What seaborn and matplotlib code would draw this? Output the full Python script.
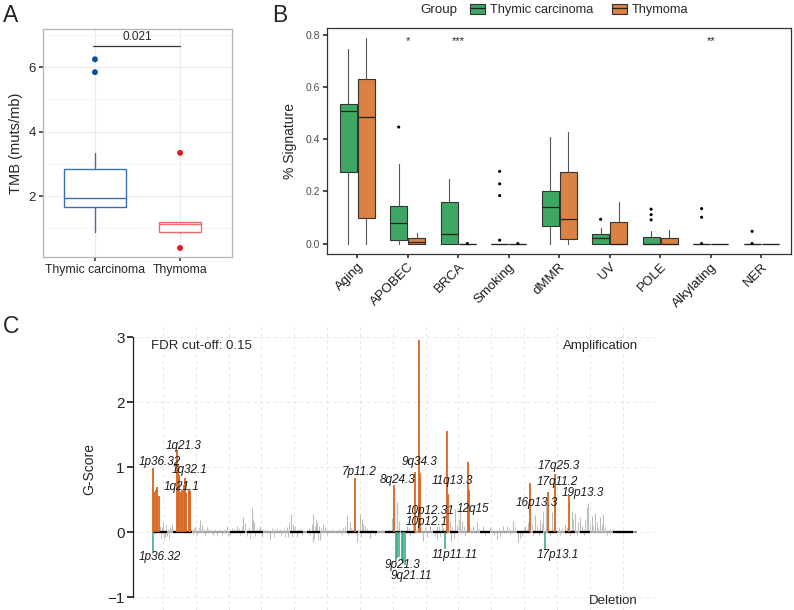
import matplotlib
matplotlib.use('Agg')
import matplotlib.pyplot as plt
from matplotlib.patches import Patch
from matplotlib.lines import Line2D
from matplotlib.legend_handler import HandlerTuple
import seaborn as sns
import pandas as pd
import numpy as np

# ---- panel A: TMB per group (box stats)
tmb_groups = ['Thymic carcinoma', 'Thymoma']
tmb_lo = [0.89, 0.86]
tmb_q1 = [1.66, 0.88]
tmb_med = [1.95, 1.12]
tmb_q3 = [2.85, 1.18]
tmb_hi = [3.33, 1.18]
tmb_out_group = ['Thymic carcinoma', 'Thymic carcinoma', 'Thymoma', 'Thymoma']
tmb_out_value = [6.24, 5.84, 3.34, 0.39]
tmb_pvalue = '0.021'

# ---- panel B: signature fractions
signatures = ['Aging', 'APOBEC', 'BRCA', 'Smoking', 'dMMR', 'UV', 'POLE', 'Alkylating', 'NER']
tc_lo = [0, 0, 0, 0, 0, 0, 0, 0, 0]
tc_q1 = [0.276, 0.013, 0, 0, 0.066, 0, 0, 0, 0]
tc_med = [0.507, 0.078, 0.037, 0, 0.139, 0.020, 0, 0, 0]
tc_q3 = [0.537, 0.146, 0.160, 0, 0.203, 0.036, 0.027, 0, 0]
tc_hi = [0.746, 0.305, 0.249, 0, 0.409, 0.059, 0.050, 0, 0]
th_lo = [0, 0, 0, 0, 0, 0, 0, 0, 0]
th_q1 = [0.098, 0, 0, 0, 0.017, 0, 0, 0, 0]
th_med = [0.484, 0.005, 0, 0, 0.095, 0, 0, 0, 0]
th_q3 = [0.631, 0.020, 0, 0, 0.276, 0.082, 0.023, 0, 0]
th_hi = [0.789, 0.041, 0, 0, 0.427, 0.158, 0.052, 0, 0]
sig_out_name = ['APOBEC', 'Smoking', 'Smoking', 'Smoking', 'Smoking', 'UV', 'POLE', 'POLE', 'POLE',
                'Alkylating', 'Alkylating', 'Alkylating', 'NER', 'NER', 'BRCA', 'Smoking']
sig_out_group = ['TC'] * 14 + ['TH', 'TH']
sig_out_value = [0.447, 0.277, 0.229, 0.184, 0.013, 0.093, 0.132, 0.111, 0.091,
                 0.134, 0.101, 0.0, 0.047, 0.0, 0.0, 0.0]
sig_stars = {'APOBEC': '*', 'BRCA': '***', 'Alkylating': '**'}

# ---- panel C: GISTIC G-scores along the genome (position in Mb)
amp_pos = [4, 12, 22, 32, 42, 148, 154, 162, 172, 183, 192, 198, 207, 220, 231,
           1218, 1452, 1581, 1602, 1608, 1772, 1777, 1899, 1904, 2268, 2378, 2420, 2504]
amp_score = [0.99, 0.62, 0.65, 0.69, 0.56, 1.26, 1.05, 0.87, 0.62, 0.65, 0.72, 0.83, 0.60, 0.66, 0.63,
             0.83, 0.72, 0.92, 2.95, 0.91, 1.55, 0.58, 1.07, 0.64, 0.75, 0.62, 0.90, 0.55]
del_pos = [8, 1462, 1472, 1482, 1498, 1508, 1520, 1758, 2358]
del_score = [-0.31, -0.45, -0.40, -0.38, -0.44, -0.47, -0.51, -0.26, -0.28]
# larger background (non significant) peaks
bg_pos = [48, 58, 68, 78, 90, 108, 118, 252, 288, 298, 328, 368, 408, 448, 468, 508, 548, 570,
          598, 612, 648, 658, 708, 748, 768, 808, 816, 834, 848, 868, 964, 969, 978, 988, 1008,
          1028, 1038, 1068, 1148, 1168, 1188, 1228, 1248, 1262, 1268, 1278, 1308, 1438, 1468,
          1484, 1528, 1568, 1628, 1668, 1708, 1713, 1738, 1788, 1794, 1818, 1848, 1858, 1928,
          1948, 1988, 2028, 2068, 2108, 2128, 2168, 2198, 2208, 2238, 2258, 2298, 2328, 2348,
          2362, 2398, 2478, 2518, 2538, 2568, 2608, 2618, 2638, 2658, 2688, 2708, 2748, 2808]
bg_score = [0.10, 0.08, 0.15, -0.08, -0.06, 0.08, 0.13, 0.06, 0.18, 0.11, 0.08, -0.05, 0.04,
            0.10, -0.04, 0.10, 0.23, -0.06, 0.37, 0.15, 0.10, -0.08, -0.13, 0.05, 0.05, 0.08,
            -0.07, 0.27, 0.13, -0.08, 0.27, -0.16, 0.10, 0.15, -0.13, 0.12, 0.08, 0.03, 0.06,
            0.26, 0.15, -0.15, 0.28, 0.20, 0.13, 0.10, -0.09, 0.22, 0.46, 0.17, 0.09, 0.14,
            -0.14, 0.09, 0.09, -0.11, 0.14, 0.17, -0.14, 0.36, 0.35, 0.17, 0.09, 0.15, 0.09,
            0.08, -0.11, 0.09, 0.10, 0.17, -0.15, -0.09, 0.10, 0.15, 0.26, 0.18, 0.33, 0.41,
            0.31, 0.13, 0.33, 0.30, 0.23, 0.38, 0.44, 0.25, 0.30, 0.23, 0.28, 0.05, 0.03]
# small background noise
noise_pos = [52, 62, 72, 84, 96, 102, 112, 240, 246, 260, 270, 280, 306, 316, 340, 350, 380, 390,
             420, 430, 456, 478, 490, 520, 530, 540, 556, 580, 590, 604, 620, 630, 640, 668, 680,
             720, 730, 740, 776, 790, 800, 824, 840, 856, 876, 888, 900, 940, 950, 958, 974, 984,
             996, 1002, 1016, 1048, 1080, 1100, 1120, 1140, 1160, 1176, 1196, 1208, 1236, 1256,
             1290, 1320, 1340, 1380, 1420, 1444, 1540, 1550, 1590, 1640, 1650, 1680, 1700, 1720,
             1730, 1748, 1800, 1810, 1830, 1840, 1870, 1880, 1910, 1960, 2000, 2040, 2050, 2080,
             2090, 2140, 2150, 2180, 2220, 2230, 2248, 2278, 2288, 2310, 2320, 2340, 2370, 2388,
             2410, 2440, 2450, 2460, 2490, 2510, 2528, 2548, 2558, 2580, 2590, 2600, 2628, 2648,
             2668, 2678, 2698, 2718, 2730, 2760, 2780, 2840]
noise_score = [-0.10, 0.05, -0.12, 0.12, 0.04, -0.10, 0.05, 0.05, -0.05, 0.10, -0.04, 0.07, 0.05,
               -0.04, 0.05, 0.03, 0.04, -0.06, -0.05, 0.05, -0.06, 0.06, 0.05, 0.06, -0.05, 0.10,
               0.14, 0.08, -0.10, 0.20, -0.06, 0.06, 0.05, 0.04, 0.05, 0.06, -0.07, 0.04, -0.05,
               0.05, -0.08, 0.15, -0.08, 0.10, 0.05, 0.04, -0.04, 0.06, -0.05, 0.12, -0.10, 0.20,
               -0.12, 0.10, 0.06, -0.05, 0.04, 0.03, 0.05, -0.04, 0.10, -0.05, 0.06, 0.05, 0.05,
               -0.08, 0.06, 0.05, -0.04, 0.05, 0.04, 0.12, 0.06, -0.06, 0.05, 0.08, -0.08, 0.05,
               -0.06, 0.10, -0.08, 0.06, 0.10, -0.10, 0.12, 0.20, 0.10, -0.06, 0.05, 0.05, -0.04,
               0.05, -0.05, 0.06, -0.08, 0.06, -0.05, 0.08, -0.06, 0.06, 0.05, 0.12, -0.06, 0.10,
               -0.06, 0.14, 0.15, -0.06, 0.10, 0.08, -0.05, 0.06, 0.08, -0.06, 0.20, -0.06, 0.15,
               0.10, -0.05, 0.20, 0.12, 0.10, 0.15, 0.06, 0.12, 0.08, -0.04, 0.04, 0.03, 0.02]
genome_start, genome_end = 4, 2910
seg_start = [4, 126, 468, 568, 828, 928, 1168, 1248, 1398, 1492, 1686, 1788, 1968, 2190, 2286, 2376, 2478, 2568, 2766]
seg_end = [88, 238, 558, 668, 906, 1008, 1236, 1348, 1486, 1578, 1770, 1836, 2028, 2268, 2346, 2430, 2538, 2628, 2886]
cyto_labels = ['1p36.32', '1q21.3', '1q32.1', '1q21.1', '7p11.2', '8q24.3', '9q34.3', '11q13.3',
               '10p12.31', '12q15', '10p12.1', '16p13.3', '17q11.2', '17q25.3', '19p13.3',
               '1p36.32', '9p21.3', '9q21.11', '11p11.11', '17p13.1']
cyto_x = [48, 188, 228, 178, 1241, 1475, 1605, 1804, 1668, 1925, 1646, 2308, 2430, 2441, 2583,
          48, 1505, 1558, 1814, 2436]
cyto_y = [1.08, 1.33, 0.95, 0.69, 0.93, 0.80, 1.07, 0.78, 0.33, 0.35, 0.15, 0.44, 0.77, 1.02, 0.60,
          -0.385, -0.51, -0.68, -0.35, -0.35]

GREEN = '#3FA764'
ORANGE = '#DB8143'
BLUE = '#3A6FB5'
RED = '#F06A6A'
AMP = '#D9651F'
DEL = '#2FA47C'

sns.set_theme(style='white')
plt.rcParams['font.family'] = ['Liberation Sans', 'DejaVu Sans']

fig = plt.figure(figsize=(7.94, 6.10), dpi=100)


def stats(lo, q1, med, q3, hi):
    return [dict(whislo=a, q1=b, med=c, q3=d, whishi=e, fliers=[])
            for a, b, c, d, e in zip(lo, q1, med, q3, hi)]


# ---------------- A
axA = fig.add_axes([0.0542, 0.5787, 0.238, 0.3738])
tmb_stats = stats(tmb_lo, tmb_q1, tmb_med, tmb_q3, tmb_hi)
for i, (st, col) in enumerate(zip(tmb_stats, [BLUE, RED])):
    axA.bxp([st], positions=[i], widths=[[0.72, 0.49][i]], showfliers=False, patch_artist=True,
            boxprops=dict(facecolor='white', edgecolor=col, linewidth=1.0),
            medianprops=dict(color=col, linewidth=1.0),
            whiskerprops=dict(color=col, linewidth=1.0), capprops=dict(linewidth=0))
dfA = pd.DataFrame({'group': tmb_out_group, 'tmb': tmb_out_value})
dfA['x'] = dfA['group'].map({g: i for i, g in enumerate(tmb_groups)})
sns.scatterplot(data=dfA, x='x', y='tmb', hue='group', palette={'Thymic carcinoma': '#0B4F96', 'Thymoma': '#E8141B'},
                s=18, edgecolor='none', legend=False, ax=axA, zorder=3)
axA.plot([-0.02, 1.0], [6.65, 6.65], color='#333333', lw=0.9)
axA.text(0.5, 6.76, tmb_pvalue, ha='center', va='bottom', fontsize=8.5)
axA.set_xlim(-0.61, 1.61)
axA.set_ylim(0.11, 7.18)
axA.set_xticks([0, 1])
axA.set_xticklabels(tmb_groups, fontsize=8.8)
axA.set_yticks([2, 4, 6])
axA.set_yticks([1, 3, 5, 7], minor=True)
axA.tick_params(axis='y', labelsize=9.5, length=3, color='#444444', left=True, pad=2)
axA.tick_params(axis='x', length=3, color='#444444', bottom=True, pad=2)
axA.grid(True, which='major', color='#EBEBEB', lw=0.8)
axA.grid(True, which='minor', axis='y', color='#F2F2F2', lw=0.6)
axA.set_axisbelow(True)
for s in axA.spines.values():
    s.set_color('#B3B3B3')
    s.set_linewidth(0.9)
axA.set_xlabel('')
axA.set_ylabel('TMB (muts/mb)', fontsize=10.5, labelpad=4)

# ---------------- B
axB = fig.add_axes([0.4118, 0.5836, 0.5844, 0.3705])
xpos = np.arange(len(signatures))
for st, col, off in [(stats(tc_lo, tc_q1, tc_med, tc_q3, tc_hi), GREEN, -0.18),
                     (stats(th_lo, th_q1, th_med, th_q3, th_hi), ORANGE, 0.18)]:
    axB.bxp(st, positions=xpos + off, widths=0.34, showfliers=False, patch_artist=True,
            boxprops=dict(facecolor=col, edgecolor='#333333', linewidth=0.8),
            medianprops=dict(color='#222222', linewidth=0.9),
            whiskerprops=dict(color='#555555', linewidth=0.8), capprops=dict(linewidth=0))
dfB = pd.DataFrame({'sig': sig_out_name, 'grp': sig_out_group, 'val': sig_out_value})
dfB['x'] = dfB['sig'].map({s: i for i, s in enumerate(signatures)}) + dfB['grp'].map({'TC': -0.18, 'TH': 0.18})
sns.scatterplot(data=dfB, x='x', y='val', color='black', s=5, edgecolor='none', legend=False, ax=axB, zorder=3)
for name, star in sig_stars.items():
    axB.text(signatures.index(name), 0.775, star, ha='center', va='center', fontsize=8)
axB.set_xlim(-0.6, 8.59)
axB.set_ylim(-0.04, 0.827)
axB.set_xticks(xpos)
axB.set_xticklabels(signatures, rotation=45, ha='right', rotation_mode='anchor', fontsize=9.5, color='#1A1A1A')
axB.set_yticks([0, 0.2, 0.4, 0.6, 0.8])
axB.set_yticklabels(['0.0', '0.2', '0.4', '0.6', '0.8'])
axB.tick_params(axis='y', labelsize=7.5, labelcolor='#4D4D4D', length=3, color='#333333', left=True, pad=2)
axB.tick_params(axis='x', length=3, color='#333333', bottom=True, pad=2)
for s in axB.spines.values():
    s.set_color('#333333')
    s.set_linewidth(0.9)
axB.set_xlabel('')
axB.set_ylabel('% Signature', fontsize=10, labelpad=6)
handles = [(Patch(facecolor=GREEN, edgecolor='#333333', lw=0.8), Line2D([], [], color='#222222', lw=0.9)),
           (Patch(facecolor=ORANGE, edgecolor='#333333', lw=0.8), Line2D([], [], color='#222222', lw=0.9))]
fig.text(0.530, 0.984, 'Group', fontsize=9.6, va='center', ha='left')
fig.legend(handles, ['Thymic carcinoma', 'Thymoma'], handler_map={tuple: HandlerTuple(ndivide=1)},
           loc='center left', bbox_to_anchor=(0.592, 0.984), ncol=2, frameon=False, fontsize=9.2,
           handlelength=1.2, handleheight=0.85, handletextpad=0.4, columnspacing=1.4, borderaxespad=0, borderpad=0)

# ---------------- C
axC = fig.add_axes([0.1675, 0.0, 0.6574, 0.4634])
axC.hlines(0, genome_start, genome_end, color='#9E9E9E', lw=1.6, zorder=1)
axC.vlines(noise_pos, 0, noise_score, color='#C4C4C4', lw=0.7, zorder=2)
axC.vlines(bg_pos, 0, bg_score, color='#BDBDBD', lw=0.8, zorder=2)
axC.hlines(np.zeros(len(seg_start)), seg_start, seg_end, color='black', lw=1.6, zorder=3)
axC.vlines(amp_pos, 0, amp_score, color=AMP, lw=1.3, zorder=4)
axC.vlines(del_pos, 0, del_score, color=DEL, lw=1.1, zorder=4)
for lab, x, y in zip(cyto_labels, cyto_x, cyto_y):
    axC.text(x, y, lab, fontsize=8.5, style='italic', ha='center', va='center', color='#1A1A1A', zorder=5)
axC.text(-8, 2.86, 'FDR cut-off: 0.15', fontsize=9.5, ha='left', va='center')
axC.text(2916, 2.86, 'Amplification', fontsize=9.5, ha='right', va='center')
axC.text(2916, -1.06, 'Deletion', fontsize=9.5, ha='right', va='center')
axC.set_xlim(-114, 3018)
axC.set_ylim(-1.2, 3.15)
axC.set_xticks(np.arange(66, 3018, 197))
axC.set_xticklabels([])
axC.set_yticks([-1, 0, 1, 2, 3])
axC.tick_params(axis='x', length=0)
axC.tick_params(axis='y', labelsize=11, length=4, color='#222222', left=True, pad=2)
axC.grid(True, color='#E3E3E3', lw=0.6, ls=(0, (4, 4)))
axC.set_axisbelow(True)
for k in ['top', 'right', 'bottom']:
    axC.spines[k].set_visible(False)
axC.spines['left'].set_bounds(-1, 3)
axC.spines['left'].set_color('#222222')
axC.spines['left'].set_linewidth(0.9)
axC.set_ylabel('G-Score', fontsize=10, labelpad=8)

fig.text(0.004, 0.964, 'A', fontsize=16.5, va='baseline', ha='left')
fig.text(0.343, 0.964, 'B', fontsize=16.5, va='baseline', ha='left')
fig.text(0.004, 0.454, 'C', fontsize=16.5, va='baseline', ha='left')

fig.savefig('out.png', dpi=100, facecolor='white')
